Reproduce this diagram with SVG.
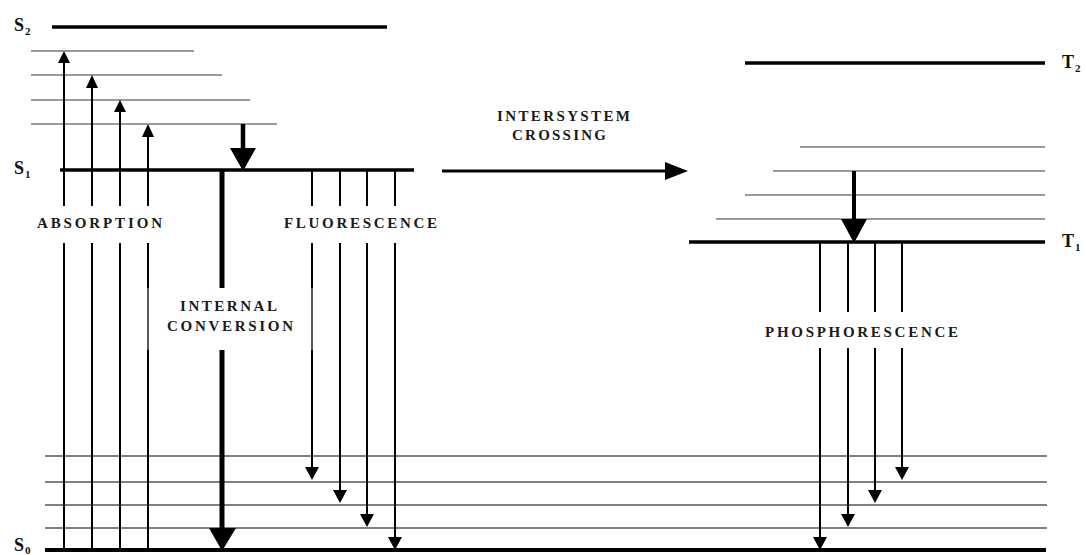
<svg xmlns="http://www.w3.org/2000/svg" width="1086" height="555" viewBox="0 0 1086 555">
<defs>
<style>
.lvl{stroke:#000;stroke-width:3.5;fill:none}
.vib{stroke:#7a7a7a;stroke-width:1.5;fill:none}
.vib0{stroke:#555;stroke-width:1.5;fill:none}
.ln{stroke:#000;stroke-width:2;fill:none}
.lnt{stroke:#000;stroke-width:1.3;fill:none}
.head{fill:#000}
.lbl{font-family:"Liberation Serif",serif;font-weight:bold;font-size:15px;fill:#1a1a1a}
.st{font-family:"Liberation Serif",serif;font-weight:bold;font-size:18px;fill:#111}
.sub{font-size:11px}
</style>
</defs>
<rect width="1086" height="555" fill="#fff"/>

<g id="S2">
<line class="lvl" x1="52" y1="27" x2="387" y2="27"/>
<text class="st" x="14" y="31">S<tspan class="sub" dx="1" dy="4">2</tspan></text>
</g>
<g id="S1-vib">
<line class="vib" x1="31" y1="51" x2="194" y2="51"/>
<line class="vib" x1="31" y1="75" x2="222" y2="75"/>
<line class="vib" x1="31" y1="100" x2="250" y2="100"/>
<line class="vib" x1="31" y1="124" x2="277" y2="124"/>
</g>
<g id="S1">
<line class="lvl" x1="60" y1="170" x2="414" y2="170"/>
<text class="st" x="14" y="174">S<tspan class="sub" dx="1" dy="4">1</tspan></text>
</g>
<g id="S0-vib">
<line class="vib0" x1="45" y1="456" x2="1047" y2="456"/>
<line class="vib0" x1="45" y1="482" x2="1047" y2="482"/>
<line class="vib0" x1="45" y1="505" x2="1047" y2="505"/>
<line class="vib0" x1="45" y1="528" x2="1047" y2="528"/>
</g>
<g id="S0">
<line class="lvl" x1="45" y1="550" x2="1046" y2="550" style="stroke-width:4"/>
<text class="st" x="14" y="551">S<tspan class="sub" dx="1" dy="3">0</tspan></text>
</g>
<g id="T2">
<line class="lvl" x1="745" y1="63" x2="1045" y2="63"/>
<text class="st" x="1062" y="68">T<tspan class="sub" dx="1" dy="4">2</tspan></text>
</g>
<g id="T1-vib">
<line class="vib" x1="800" y1="147" x2="1045" y2="147"/>
<line class="vib" x1="773" y1="171" x2="1045" y2="171"/>
<line class="vib" x1="745" y1="195" x2="1045" y2="195"/>
<line class="vib" x1="716" y1="219" x2="1045" y2="219"/>
</g>
<g id="T1">
<line class="lvl" x1="689" y1="242" x2="1045" y2="242"/>
<text class="st" x="1062" y="247">T<tspan class="sub" dx="1" dy="4">1</tspan></text>
</g>

<g id="connectors">
<g id="absorption">
<path class="ln" d="M64 550V243M64 206V62M92 550V243M92 206V87M120 550V243M120 206V111M148 550V350M148 288V243M148 206V136"/>
<path class="lnt" d="M148 288V350"/>
<polygon class="head" points="64,51 58,63 70,63"/>
<polygon class="head" points="92,75 86,88 98,88"/>
<polygon class="head" points="120,100 114,112 126,112"/>
<polygon class="head" points="148,124 142,137 154,137"/>
</g>
<g id="relax-s1">
<line x1="243" y1="124" x2="243" y2="150" stroke="#000" stroke-width="4.5"/>
<polygon class="head" points="230,148 256,148 243,171"/>
</g>
<g id="internal-conversion">
<line x1="222" y1="170" x2="222" y2="288" stroke="#000" stroke-width="5"/>
<line x1="222" y1="350" x2="222" y2="530" stroke="#000" stroke-width="5"/>
<polygon class="head" points="209,528 236,528 222,551"/>
</g>
<g id="fluorescence">
<path class="ln" d="M312 170V206M312 243V288M312 350V468M340 170V206M340 243V491M367 170V206M367 243V515M395 170V206M395 243V538"/>
<path class="lnt" d="M312 288V350"/>
<polygon class="head" points="305,467 319,467 312,480"/>
<polygon class="head" points="333,490 347,490 340,503"/>
<polygon class="head" points="360,514 374,514 367,527"/>
<polygon class="head" points="388,537 402,537 395,550"/>
</g>
<g id="isc">
<line x1="442" y1="171" x2="668" y2="171" stroke="#000" stroke-width="3"/>
<polygon class="head" points="665,162 688,171 665,180"/>
</g>
<g id="relax-t1">
<line x1="854" y1="171" x2="854" y2="221" stroke="#000" stroke-width="4"/>
<polygon class="head" points="841,219 867,219 854,243"/>
</g>
<g id="phosphorescence">
<path class="ln" d="M820 242V312M820 348V538M848 242V312M848 348V515M875 242V312M875 348V491M902 242V312M902 348V468"/>
<polygon class="head" points="813,537 827,537 820,550"/>
<polygon class="head" points="841,514 855,514 848,527"/>
<polygon class="head" points="868,490 882,490 875,503"/>
<polygon class="head" points="895,467 909,467 902,480"/>
</g>
</g>

<g id="labels">
<text class="lbl" x="37" y="228" textLength="125" lengthAdjust="spacing">ABSORPTION</text>
<text class="lbl" x="284" y="228" textLength="153" lengthAdjust="spacing">FLUORESCENCE</text>
<text class="lbl" x="180" y="311" textLength="97" lengthAdjust="spacing">INTERNAL</text>
<text class="lbl" x="167" y="331" textLength="126" lengthAdjust="spacing">CONVERSION</text>
<text class="lbl" x="497" y="121" textLength="133" lengthAdjust="spacing">INTERSYSTEM</text>
<text class="lbl" x="512" y="140" textLength="94" lengthAdjust="spacing">CROSSING</text>
<text class="lbl" x="765" y="337" textLength="193" lengthAdjust="spacing">PHOSPHORESCENCE</text>
</g>
</svg>
